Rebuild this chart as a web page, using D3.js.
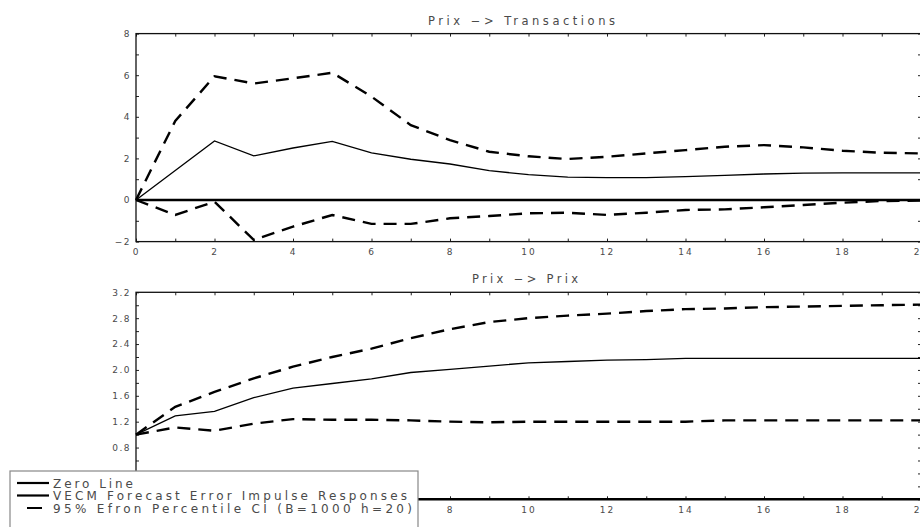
<!DOCTYPE html>
<html>
<head>
<meta charset="utf-8">
<script src="https://cdn.jsdelivr.net/npm/d3@7/dist/d3.min.js"></script>
<style>
    body { margin: 0; background: #fff; }
    svg text { font-family: "DejaVu Sans", sans-serif; fill: #4a4a4a; }
</style>
</head>
<body>
<svg id="irf" width="920" height="527"></svg>
<script>
// horizon steps
var horizon = d3.range(0, 21);

// Prix -> Transactions
var transResp = [0, 1.42, 2.84, 2.12, 2.5, 2.82, 2.27, 1.96, 1.73, 1.41, 1.22,
    1.1, 1.08, 1.08, 1.12, 1.18, 1.25, 1.29, 1.3, 1.3, 1.3];
var transUpper = [0, 3.8, 5.95, 5.6, 5.85, 6.12, 4.97, 3.6, 2.88, 2.32, 2.1,
    1.97, 2.08, 2.24, 2.4, 2.56, 2.64, 2.53, 2.37, 2.27, 2.24];
var transLower = [0, -0.72, -0.08, -1.92, -1.28, -0.72, -1.15, -1.15, -0.88, -0.77, -0.64,
    -0.61, -0.72, -0.61, -0.48, -0.45, -0.35, -0.24, -0.13, -0.05, -0.03];

// Prix -> Prix
var prixResp = [1.0, 1.29, 1.36, 1.57, 1.72, 1.79, 1.86, 1.96, 2.01, 2.06, 2.11,
    2.13, 2.15, 2.16, 2.18, 2.18, 2.18, 2.18, 2.18, 2.18, 2.18];
var prixUpper = [1.0, 1.43, 1.66, 1.87, 2.05, 2.2, 2.33, 2.49, 2.63, 2.74, 2.8,
    2.84, 2.87, 2.91, 2.94, 2.95, 2.97, 2.98, 2.99, 3.0, 3.01];
var prixLower = [1.0, 1.11, 1.06, 1.17, 1.24, 1.23, 1.23, 1.22, 1.2, 1.19, 1.2,
    1.2, 1.2, 1.2, 1.2, 1.22, 1.22, 1.22, 1.22, 1.22, 1.22];

var xMajor = d3.range(0, 21, 2);
var xMinor = d3.range(1, 21, 2);
var transYMajor = [-2, 0, 2, 4, 6, 8];
var transYMinor = [-1, 1, 3, 5, 7];
var prixYMajor = [0, 0.4, 0.8, 1.2, 1.6, 2.0, 2.4, 2.8, 3.2];
var prixYMinor = [0.2, 0.6, 1.0, 1.4, 1.8, 2.2, 2.6, 3.0];

var legendLabels = ["Zero Line", "VECM Forecast Error Impulse Responses",
    "95% Efron Percentile CI (B=1000 h=20)"];

var svg = d3.select("#irf");
var left = 136, right = 921;

/**
 * returns a tick formatter that leaves labels hidden behind the legend empty
 */
function maskFormat(fmt, minShown) {
    return function (d) {
        return d < minShown ? "" : fmt(d);
    };
}

/**
 * draws one impulse response panel
 */
function drawPanel(opts) {
    var g = svg.append("g");
    var x = d3.scaleLinear().domain([0, 20]).range([left, right]);
    var y = d3.scaleLinear().domain(opts.yDomain).range([opts.bottom, opts.top]);

    var axes = [
        [d3.axisBottom(x).tickValues(xMajor).tickSize(-3).tickPadding(7)
            .tickFormat(maskFormat(d3.format("d"), opts.xMinLabel)), opts.bottom],
        [d3.axisBottom(x).tickValues(xMinor).tickSize(-3).tickFormat(""), opts.bottom],
        [d3.axisTop(x).tickValues(xMajor.concat(xMinor)).tickSize(-3).tickFormat(""), opts.top]
    ];
    axes.forEach(function (a) {
        var ax = g.append("g").attr("transform", "translate(0," + a[1] + ")").call(a[0]);
        ax.select(".domain").remove();
        ax.selectAll("line").attr("stroke", "#222");
        ax.selectAll("text").attr("font-size", 9).attr("letter-spacing", 2)
            .attr("fill", "#4a4a4a").attr("font-family", "DejaVu Sans");
    });

    var yaxes = [
        [d3.axisLeft(y).tickValues(opts.yMajor).tickSize(-3).tickPadding(5)
            .tickFormat(maskFormat(opts.fmt, opts.yMinLabel)), left],
        [d3.axisLeft(y).tickValues(opts.yMinor).tickSize(-3).tickFormat(""), left],
        [d3.axisRight(y).tickValues(opts.yMajor.concat(opts.yMinor)).tickSize(-3).tickFormat(""), right]
    ];
    yaxes.forEach(function (a) {
        var ax = g.append("g").attr("transform", "translate(" + a[1] + ",0)").call(a[0]);
        ax.select(".domain").remove();
        ax.selectAll("line").attr("stroke", "#222");
        ax.selectAll("text").attr("font-size", 9).attr("letter-spacing", 1.5)
            .attr("fill", "#4a4a4a").attr("font-family", "DejaVu Sans");
    });

    // frame
    g.append("rect")
        .attr("x", left).attr("y", opts.top)
        .attr("width", right - left).attr("height", opts.bottom - opts.top)
        .attr("fill", "none").attr("stroke", "#111").attr("stroke-width", 1.3);

    // zero line
    g.append("line")
        .attr("x1", left).attr("x2", right)
        .attr("y1", y(0)).attr("y2", y(0))
        .attr("stroke", "#000").attr("stroke-width", 2.4);

    var line = d3.line()
        .x(function (d, i) { return x(horizon[i]); })
        .y(function (d) { return y(d); });

    [opts.upper, opts.lower].forEach(function (s) {
        g.append("path").datum(s).attr("d", line)
            .attr("fill", "none").attr("stroke", "#000")
            .attr("stroke-width", 2.4).attr("stroke-dasharray", "13,8");
    });
    g.append("path").datum(opts.resp).attr("d", line)
        .attr("fill", "none").attr("stroke", "#000").attr("stroke-width", 1.3);

    g.append("text")
        .attr("x", opts.titleX).attr("y", opts.top - 9)
        .attr("font-size", 11.5)
        .attr("textLength", opts.titleW)
        .attr("lengthAdjust", "spacing")
        .text(opts.title);
}

drawPanel({
    title: "Prix \u2212> Transactions", titleX: 428, titleW: 187,
    top: 33.6, bottom: 241.6, yDomain: [-2, 8],
    yMajor: transYMajor, yMinor: transYMinor, fmt: d3.format("d"),
    xMinLabel: 0, yMinLabel: -2,
    resp: transResp, upper: transUpper, lower: transLower
});

drawPanel({
    title: "Prix \u2212> Prix", titleX: 472, titleW: 106,
    top: 292.3, bottom: 499.3, yDomain: [0, 3.2],
    yMajor: prixYMajor, yMinor: prixYMinor, fmt: d3.format(".1f"),
    xMinLabel: 8, yMinLabel: 0.8,
    resp: prixResp, upper: prixUpper, lower: prixLower
});

// legend
var legend = svg.append("g");
legend.append("rect")
    .attr("x", 10).attr("y", 471).attr("width", 408).attr("height", 70)
    .attr("fill", "#fff").attr("stroke", "#888").attr("stroke-width", 1.2);

var legendY = [483, 495.5, 508];
var legendWidth = [80, 354, 359];
legendLabels.forEach(function (lab, i) {
    var ln = legend.append("line")
        .attr("x1", 17).attr("x2", 49)
        .attr("y1", legendY[i]).attr("y2", legendY[i])
        .attr("stroke", "#000").attr("stroke-width", 2.2);
    if (i == 2) ln.attr("stroke-dasharray", "0,10,15,7");
    legend.append("text")
        .attr("x", 53).attr("y", legendY[i] + 4.5)
        .attr("font-size", 12)
        .attr("textLength", legendWidth[i])
        .attr("lengthAdjust", "spacing")
        .text(lab);
});
</script>
</body>
</html>
